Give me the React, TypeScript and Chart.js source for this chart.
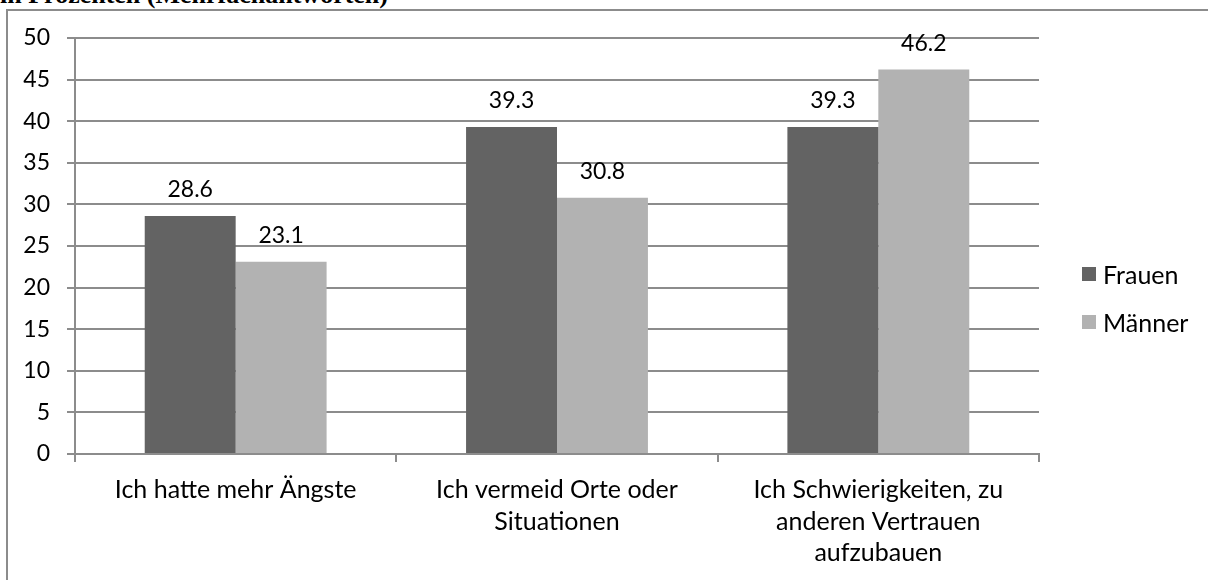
import React, { useEffect, useRef } from "react";
import { Chart, registerables } from "chart.js";

Chart.register(...registerables);

const categories: string[][] = [
  ["Ich hatte mehr Ängste"],
  ["Ich vermeid Orte oder", "Situationen"],
  ["Ich Schwierigkeiten, zu", "anderen Vertrauen", "aufzubauen"],
];
const seriesNames = ["Frauen", "Männer"];
const frauen = [28.6, 39.3, 39.3];
const maenner = [23.1, 30.8, 46.2];
const seriesColors = ["#636363", "#b2b2b2"];
const yMin = 0;
const yMax = 50;
const yStep = 5;
const titleText = "in Prozenten (Mehrfachantworten)";

const FONT = "Lato, 'Open Sans', sans-serif";
const GRID = "#8c8c8c";

const valueLabels = {
  id: "valueLabels",
  afterDatasetsDraw(chart: any) {
    const ctx = chart.ctx;
    ctx.save();
    ctx.font = `23px ${FONT}`;
    ctx.fillStyle = "#000";
    ctx.textAlign = "center";
    ctx.textBaseline = "alphabetic";
    chart.data.datasets.forEach((ds: any, i: number) => {
      const meta = chart.getDatasetMeta(i);
      meta.data.forEach((bar: any, j: number) => {
        ctx.fillText(String(ds.data[j]), bar.x, bar.y - 19);
      });
    });
    ctx.restore();
  },
};

export default function App() {
  const ref = useRef<HTMLCanvasElement | null>(null);

  useEffect(() => {
    document.body.style.margin = "0";
    const canvas = ref.current;
    if (!canvas) return;
    const chart = new Chart(canvas, {
      type: "bar",
      data: {
        labels: categories,
        datasets: [
          { label: seriesNames[0], data: frauen, backgroundColor: seriesColors[0], categoryPercentage: 0.566, barPercentage: 1 },
          { label: seriesNames[1], data: maenner, backgroundColor: seriesColors[1], categoryPercentage: 0.566, barPercentage: 1 },
        ],
      },
      options: {
        responsive: false,
        animation: false,
        maintainAspectRatio: false,
        layout: { padding: { top: 38, right: 169, left: 0, bottom: 0 } },
        plugins: { legend: { display: false }, tooltip: { enabled: false }, title: { display: false } },
        scales: {
          x: {
            grid: { display: true, drawOnChartArea: false, drawTicks: true, tickLength: 8, color: GRID, lineWidth: 2, offset: true },
            border: { display: true, color: GRID, width: 2 },
            ticks: { color: "#000", font: { family: FONT, size: 25, lineHeight: 1.27 }, padding: 12, maxRotation: 0, autoSkip: false },
            afterFit: (s: any) => { s.height = 126; },
          },
          y: {
            min: yMin,
            max: yMax,
            grid: { display: true, drawOnChartArea: true, drawTicks: true, tickLength: 8, color: GRID, lineWidth: 2 },
            border: { display: true, color: GRID, width: 2 },
            ticks: { stepSize: yStep, color: "#000", font: { family: FONT, size: 23 }, padding: 17 },
            afterFit: (s: any) => { s.width = 75; },
          },
        },
      },
      plugins: [valueLabels],
    });
    return () => chart.destroy();
  }, []);

  return (
    <div style={{ position: "relative", width: 1208, height: 580, overflow: "hidden", background: "#fff" }}>
      <div style={{ position: "absolute", left: 0, top: -20, fontFamily: "'Liberation Serif', serif", fontWeight: "bold", fontSize: 26, whiteSpace: "nowrap", color: "#000" }}>
        {titleText}
      </div>
      <div style={{ position: "absolute", left: 6, top: 9, width: 1210, height: 580, borderLeft: "2px solid #8c8c8c", borderTop: "2px solid #8c8c8c", background: "#fff" }} />
      <canvas ref={ref} width={1208} height={580} style={{ position: "absolute", left: 0, top: 0, width: 1208, height: 580 }} />
      <div style={{ position: "absolute", left: 1082, top: 250, fontFamily: FONT, fontSize: 25, color: "#000" }}>
        {seriesNames.map((n, i) => (
          <div key={n} style={{ display: "flex", alignItems: "center", height: 48 }}>
            <span style={{ display: "inline-block", width: 14, height: 14, background: seriesColors[i], marginRight: 7 }} />
            <span>{n}</span>
          </div>
        ))}
      </div>
    </div>
  );
}
